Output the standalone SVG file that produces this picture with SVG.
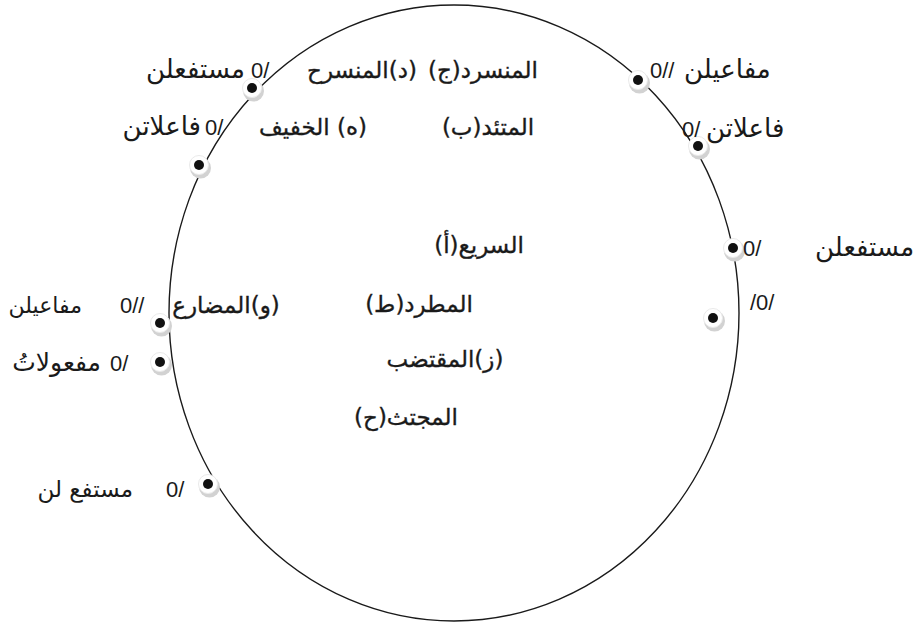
<svg xmlns="http://www.w3.org/2000/svg" width="919" height="626" viewBox="0 0 919 626">
<defs>
<style>
.ar{font-family:"DejaVu Sans","Noto Sans",sans-serif;font-size:26px;fill:#1a1a1a}
.lb{font-family:"DejaVu Sans","Noto Sans",sans-serif;font-size:23px;fill:#1a1a1a;stroke:#1a1a1a;stroke-width:0.35;direction:rtl;text-anchor:middle}
.num{font-family:"Liberation Sans","DejaVu Sans",sans-serif;font-size:22px;fill:#1a1a1a}
.shadow{fill:#d2d2d2}
.halo{fill:#ffffff;stroke:#eaeaea;stroke-width:1}
.dot{fill:#111111}
</style>
<g id="pt">
<circle class="shadow" cx="1.5" cy="3" r="10.5"/>
<circle class="halo" cx="0" cy="0" r="9.5"/>
<circle class="dot" cx="0" cy="0" r="5"/>
</g>
</defs>
<rect width="919" height="626" fill="#ffffff"/>
<g id="connectors">
<ellipse cx="454" cy="313" rx="285" ry="308" fill="none" stroke="#1a1a1a" stroke-width="1.4"/>
</g>
<g id="labels-center">
<text class="lb" x="362" y="78">(د)المنسرح</text>
<text class="lb" x="483" y="78">المنسرد(ج)</text>
<text class="lb" x="313" y="135">(ه) الخفيف</text>
<text class="lb" x="488" y="135">المتئد(ب)</text>
<text class="lb" x="479" y="253">السريع(أ)</text>
<text class="lb" x="419" y="312">المطرد(ط)</text>
<text class="lb" x="445" y="367">(ز)المقتضب</text>
<text class="lb" x="406" y="425">المجتث(ح)</text>
<text class="lb" x="226" y="313">(و)المضارع</text>
</g>
<g id="node-tl1">
<use href="#pt" x="252" y="88"/>
<text class="ar" x="245" y="78" text-anchor="end">مستفعلن</text>
<text class="num" x="251" y="78">0/</text>
</g>
<g id="node-tl2">
<use href="#pt" x="199" y="165"/>
<text class="ar" x="201" y="135" text-anchor="end">فاعلاتن</text>
<text class="num" x="205" y="135">0/</text>
</g>
<g id="node-tr1">
<use href="#pt" x="638" y="80"/>
<text class="num" x="650" y="78">0//</text>
<text class="ar" x="684" y="78">مفاعيلن</text>
</g>
<g id="node-tr2">
<use href="#pt" x="698" y="146"/>
<text class="num" x="682" y="137">0/</text>
<text class="ar" x="706" y="137">فاعلاتن</text>
</g>
<g id="node-r1">
<use href="#pt" x="733" y="248"/>
<text class="num" x="743" y="256">0/</text>
<text class="ar" x="815" y="256">مستفعلن</text>
</g>
<g id="node-r2">
<use href="#pt" x="713" y="318"/>
<text class="num" x="750" y="310">/0/</text>
</g>
<g id="node-l1">
<use href="#pt" x="160" y="323"/>
<text class="ar" x="82" y="313" text-anchor="end" style="font-size:22px">مفاعيلن</text>
<text class="num" x="120" y="313">0//</text>
</g>
<g id="node-l2">
<use href="#pt" x="160" y="362"/>
<text class="ar" x="101" y="371" text-anchor="end" style="font-size:25px">مفعولاتُ</text>
<text class="num" x="110" y="371">0/</text>
</g>
<g id="node-l3">
<use href="#pt" x="208" y="484"/>
<text class="ar" x="133" y="497" text-anchor="end" style="font-size:23px">مستفع لن</text>
<text class="num" x="166" y="497">0/</text>
</g>
</svg>
